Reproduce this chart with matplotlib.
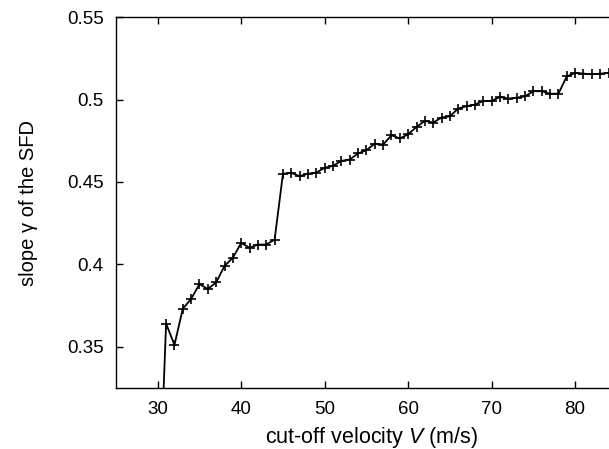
import numpy as np
import matplotlib
matplotlib.use('Agg')
from matplotlib import pyplot as plt

plt.rcParams['font.family'] = ['Liberation Sans', 'DejaVu Sans']
plt.rcParams['mathtext.fontset'] = 'custom'
plt.rcParams['mathtext.rm'] = 'Liberation Sans'
plt.rcParams['mathtext.it'] = 'Liberation Sans:italic'

# cut-off velocity (m/s)
velocity = list(range(30, 85))
# slope gamma of the SFD
slope = [0.230,
         0.364, 0.351, 0.373, 0.379, 0.388, 0.385, 0.389, 0.399, 0.404, 0.413,
         0.410, 0.412, 0.412, 0.415, 0.455, 0.4555, 0.4535, 0.455, 0.4557, 0.4586,
         0.4598, 0.4628, 0.4636, 0.4673, 0.4693, 0.4733, 0.4727, 0.4784, 0.4764, 0.479,
         0.4834, 0.4871, 0.4861, 0.4891, 0.4899, 0.4946, 0.496, 0.497, 0.4992, 0.4992,
         0.5016, 0.5006, 0.5012, 0.502, 0.5051, 0.5051, 0.5036, 0.5036, 0.5141, 0.5162,
         0.5158, 0.5154, 0.5158, 0.5162]
xticks = [30, 40, 50, 60, 70, 80]
yticks = [0.35, 0.4, 0.45, 0.5, 0.55]
ytick_labels = ['0.35', '0.4', '0.45', '0.5', '0.55']

fig = plt.figure(figsize=(6.09, 4.49), dpi=100)
ax = fig.add_axes([0.1905, 0.1352, 0.8128, 0.8263])

ax.plot(velocity, slope, color='black', linewidth=1.3, marker='+',
        markersize=7, markeredgewidth=1.2)

ax.set_xlim(25, 84.3)
ax.set_ylim(0.3247, 0.55)
ax.set_xticks(xticks)
ax.set_yticks(yticks)
ax.set_yticklabels(ytick_labels)
ax.tick_params(direction='in', length=5, width=1, top=True, right=False,
               labelsize=13.5, pad=9)
for s in ax.spines.values():
    s.set_linewidth(1)

ax.set_xlabel('cut-off velocity $V$ (m/s)', fontsize=15.5)
ax.xaxis.set_label_coords(0.516, -0.1)
ax.set_ylabel('slope \u03b3 of the SFD', fontsize=14.5, labelpad=21)

fig.savefig('out.png', dpi=100)
